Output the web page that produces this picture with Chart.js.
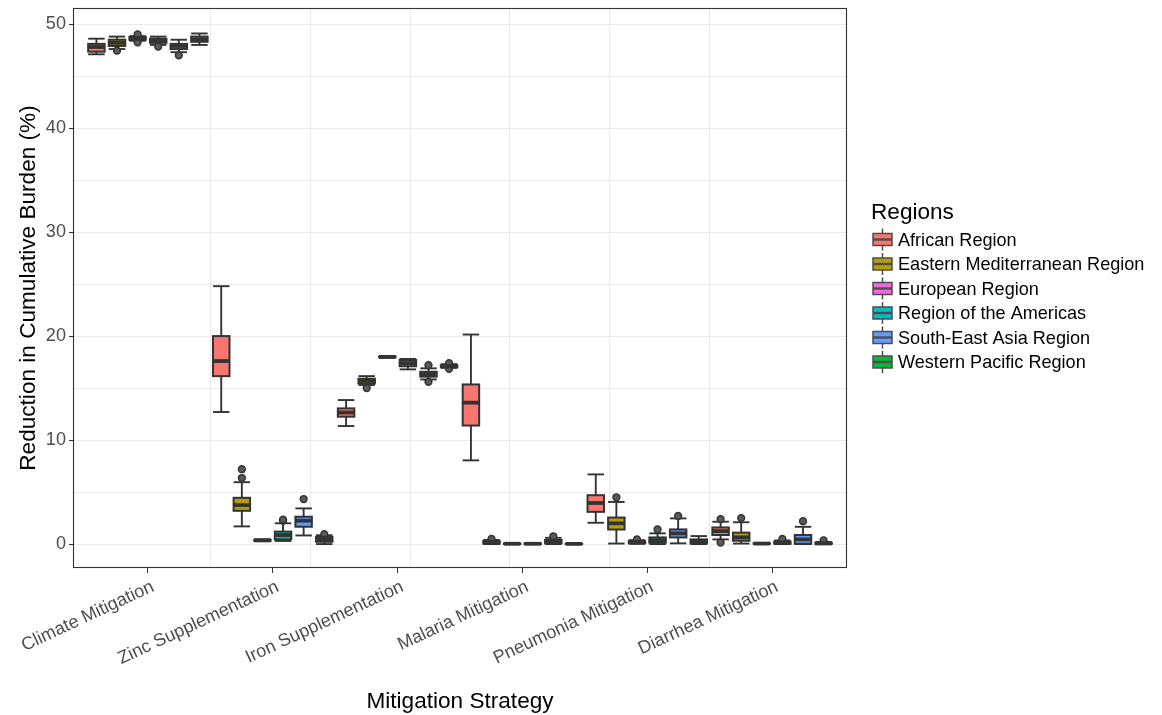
<!DOCTYPE html>
<html>
<head>
<meta charset="utf-8">
<script src="https://cdn.jsdelivr.net/npm/chart.js@4.4.1/dist/chart.umd.min.js"></script>
<style>
  html, body { margin: 0; padding: 0; background: #fff; }
  #wrap { width: 1162px; height: 715px; }
</style>
</head>
<body>
<div id="wrap"><canvas id="chart"></canvas></div>
<script>
const categories = ["Climate Mitigation", "Zinc Supplementation", "Iron Supplementation",
  "Malaria Mitigation", "Pneumonia Mitigation", "Diarrhea Mitigation"];
const regions = ["African Region", "Eastern Mediterranean Region", "European Region",
  "Region of the Americas", "South-East Asia Region", "Western Pacific Region"];
const regionColors = ["#F8766D", "#B79F00", "#F564E3", "#00BFC4", "#619CFF", "#00BA38"];

// rows = regions, columns = categories
const lowerWhisker = [
  [47.1, 12.7, 11.35, 8.05, 2.05, 0.45],
  [47.6, 1.7, 15.3, 0.0, 0.05, 0.05],
  [48.4, 0.28, 17.93, 0.0, 0.02, 0.02],
  [48.0, 0.3, 16.8, 0.0, 0.0, 0.0],
  [47.3, 0.83, 15.83, 0.0, 0.07, 0.0],
  [48.0, 0.0, 16.95, 0.0, 0.0, 0.0]
];
const q1 = [
  [47.35, 16.15, 12.25, 11.4, 3.1, 0.87],
  [47.9, 3.2, 15.45, 0.05, 1.4, 0.32],
  [48.5, 0.32, 17.97, 0.01, 0.1, 0.04],
  [48.2, 0.45, 17.1, 0.01, 0.13, 0.05],
  [47.6, 1.67, 16.1, 0.08, 0.64, 0.03],
  [48.3, 0.22, 17.0, 0.01, 0.07, 0.02]
];
const median = [
  [47.8, 17.6, 12.65, 13.6, 3.95, 1.25],
  [48.2, 3.75, 15.7, 0.15, 2.0, 0.65],
  [48.62, 0.36, 18.0, 0.03, 0.18, 0.05],
  [48.4, 0.87, 17.4, 0.03, 0.38, 0.12],
  [47.9, 2.25, 16.35, 0.2, 1.03, 0.45],
  [48.5, 0.48, 17.1, 0.02, 0.26, 0.06]
];
const q3 = [
  [48.1, 20.0, 13.05, 15.35, 4.7, 1.6],
  [48.5, 4.45, 15.9, 0.3, 2.55, 1.1],
  [48.75, 0.4, 18.03, 0.05, 0.28, 0.06],
  [48.6, 1.2, 17.7, 0.05, 0.64, 0.22],
  [48.1, 2.63, 16.57, 0.4, 1.41, 0.87],
  [48.8, 0.7, 17.2, 0.03, 0.45, 0.12]
];
const upperWhisker = [
  [48.6, 24.8, 13.85, 20.15, 6.7, 2.15],
  [48.8, 5.95, 16.15, 0.4, 4.05, 2.1],
  [48.85, 0.45, 18.07, 0.07, 0.38, 0.08],
  [48.8, 2.0, 17.8, 0.08, 1.03, 0.35],
  [48.5, 3.43, 16.9, 0.6, 2.47, 1.66],
  [49.1, 0.85, 17.3, 0.05, 0.77, 0.2]
];
const outliers = [
  [[], [], [], [], [], [2.4, 0.15]],
  [[47.45], [6.35, 7.2], [15.0], [0.5], [4.5], [2.5]],
  [[49.0, 48.25], [], [], [], [0.45], []],
  [[47.85], [2.25, 2.35], [], [], [1.4], [0.5]],
  [[47.0], [4.33], [17.2, 15.6], [0.75], [2.7], [2.2]],
  [[], [0.95], [17.4, 16.85], [], [], [0.35]]
];
const yTicks = [0, 5, 10, 15, 20, 25, 30, 35, 40, 45, 50];

const FONT = "'Liberation Sans', Arial, Helvetica, sans-serif";
const INK = "#333333";

function seg(ctx, x1, y1, x2, y2) {
  ctx.beginPath();
  ctx.moveTo(x1, y1);
  ctx.lineTo(x2, y2);
  ctx.stroke();
}

function noPad(s) {
  s.paddingTop = 0;
  s.paddingBottom = 0;
  s.paddingLeft = 0;
  s.paddingRight = 0;
}

// whiskers, caps and outliers under the boxes; outline and median on top
const boxPlotParts = {
  id: "boxPlotParts",
  beforeDatasetsDraw(chart) {
    const ctx = chart.ctx, y = chart.scales.y;
    ctx.save();
    ctx.strokeStyle = INK;
    regions.forEach((r, ri) => {
      chart.getDatasetMeta(ri).data.forEach((bar, ci) => {
        const x = bar.x, hw = bar.width / 2;
        const yHi = y.getPixelForValue(upperWhisker[ri][ci]);
        const yLo = y.getPixelForValue(lowerWhisker[ri][ci]);
        ctx.lineWidth = 1.9;
        seg(ctx, x, yHi, x, y.getPixelForValue(q3[ri][ci]));
        seg(ctx, x, yLo, x, y.getPixelForValue(q1[ri][ci]));
        seg(ctx, x - hw, yHi, x + hw, yHi);
        seg(ctx, x - hw, yLo, x + hw, yLo);
        outliers[ri][ci].forEach(v => {
          ctx.beginPath();
          ctx.arc(x, y.getPixelForValue(v), 3.4, 0, Math.PI * 2);
          ctx.fillStyle = "#5a5a5a";
          ctx.fill();
          ctx.lineWidth = 1.5;
          ctx.stroke();
        });
      });
    });
    ctx.restore();
  },
  afterDatasetsDraw(chart) {
    const ctx = chart.ctx, y = chart.scales.y;
    ctx.save();
    ctx.strokeStyle = INK;
    regions.forEach((r, ri) => {
      chart.getDatasetMeta(ri).data.forEach((bar, ci) => {
        const x = bar.x, hw = bar.width / 2;
        const top = y.getPixelForValue(q3[ri][ci]);
        const bot = y.getPixelForValue(q1[ri][ci]);
        ctx.lineWidth = 2;
        ctx.strokeRect(x - hw, top, hw * 2, bot - top);
        ctx.lineWidth = 3.8;
        const ym = y.getPixelForValue(median[ri][ci]);
        seg(ctx, x - hw, ym, x + hw, ym);
      });
    });
    ctx.restore();
  },
  afterDraw(chart) {
    const ctx = chart.ctx, a = chart.chartArea;
    ctx.save();
    // panel border
    ctx.strokeStyle = INK;
    ctx.lineWidth = 1.1;
    ctx.strokeRect(a.left + 0.5, a.top + 0.5, a.right - a.left - 1, a.bottom - a.top - 1);
    // legend
    const lx = a.right + 26;
    ctx.fillStyle = "#000";
    ctx.font = "22.6px " + FONT;
    ctx.textBaseline = "middle";
    ctx.textAlign = "left";
    ctx.fillText("Regions", lx - 2, 213);
    ctx.font = "18.1px " + FONT;
    regions.forEach((name, i) => {
      const cy = 239.5 + i * 24.5;
      ctx.strokeStyle = "#4d4d4d";
      ctx.lineWidth = 1.5;
      seg(ctx, lx + 9.5, cy - 11, lx + 9.5, cy + 11);
      ctx.fillStyle = regionColors[i];
      ctx.fillRect(lx, cy - 6, 19, 12);
      ctx.strokeRect(lx, cy - 6, 19, 12);
      ctx.lineWidth = 2.4;
      seg(ctx, lx, cy, lx + 19, cy);
      ctx.fillStyle = "#000";
      ctx.fillText(name, lx + 25, cy + 1);
    });
    ctx.restore();
  }
};

const datasets = regions.map((name, ri) => ({
  label: name,
  data: categories.map((c, ci) => ({ x: ci + 1, y: [q1[ri][ci], q3[ri][ci]] })),
  backgroundColor: regionColors[ri],
  borderWidth: 0,
  categoryPercentage: 0.99,
  barPercentage: 0.8
}));

new Chart(document.getElementById("chart"), {
  type: "bar",
  data: { datasets },
  options: {
    responsive: true,
    maintainAspectRatio: false,
    animation: false,
    layout: { padding: { top: 8, right: 315, left: 0, bottom: 0 } },
    plugins: {
      legend: { display: false },
      tooltip: { enabled: false }
    },
    scales: {
      x: {
        type: "linear",
        min: 0.4,
        max: 6.6,
        offset: false,
        afterBuildTicks: (s) => { s.ticks = categories.map((c, i) => ({ value: i + 1 })); },
        afterFit: (s) => { s.height = 147; noPad(s); },
        grid: { drawOnChartArea: false, drawTicks: true, tickLength: 5, tickColor: INK, offset: false },
        border: { display: false },
        ticks: {
          autoSkip: false,
          minRotation: 25,
          maxRotation: 25,
          padding: 3,
          labelOffset: 5,
          color: "#4D4D4D",
          font: { family: FONT, size: 18.1 },
          callback: (v) => categories[Math.round(v) - 1]
        },
        title: {
          display: true,
          text: "Mitigation Strategy",
          color: "#000",
          font: { family: FONT, size: 22.6 },
          padding: { top: -5, bottom: 0 }
        }
      },
      xGrid: {
        type: "linear",
        position: "bottom",
        min: 0.4,
        max: 6.6,
        afterBuildTicks: (s) => { s.ticks = categories.slice(1).map((c, i) => ({ value: i + 1.5 })); },
        afterFit: (s) => { s.height = 0; noPad(s); },
        grid: { color: "#EBEBEB", lineWidth: 1.1, drawTicks: false },
        border: { display: false },
        ticks: { display: false }
      },
      y: {
        min: -2.3,
        max: 51.55,
        afterBuildTicks: (s) => { s.ticks = yTicks.map(v => ({ value: v })); },
        afterFit: (s) => { s.width = 73; noPad(s); },
        grid: {
          color: "#EBEBEB",
          lineWidth: 1.1,
          tickLength: 4,
          tickColor: (c) => (c.tick && c.tick.value % 10 === 0 ? INK : "rgba(0,0,0,0)")
        },
        border: { display: false },
        ticks: {
          padding: 3,
          color: "#4D4D4D",
          font: { family: FONT, size: 18.1 },
          callback: (v) => (v % 10 === 0 ? v : "")
        },
        title: {
          display: true,
          text: "Reduction in Cumulative Burden (%)",
          color: "#000",
          font: { family: FONT, size: 22.6 },
          padding: { top: 15, bottom: 0 }
        }
      }
    }
  },
  plugins: [boxPlotParts]
});
</script>
</body>
</html>
